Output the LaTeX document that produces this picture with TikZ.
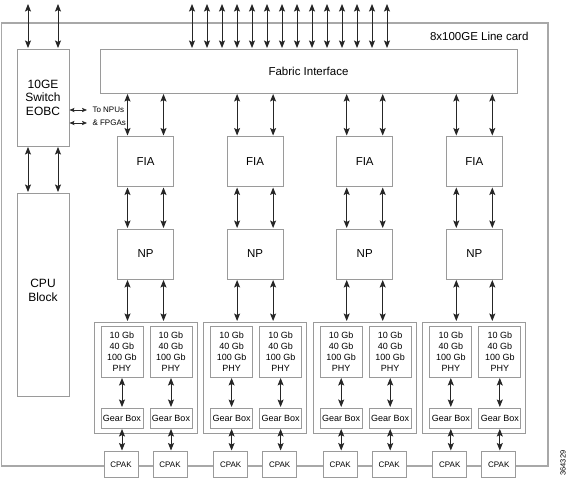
\documentclass[tikz,border=0pt]{standalone}
\usepackage{fontspec}
\setmainfont{Liberation Sans}
\usetikzlibrary{arrows.meta}
\definecolor{boxgray}{HTML}{9A9A9A}
\definecolor{framegray}{HTML}{A8A8A8}
\begin{document}
\begin{tikzpicture}[x=1pt,y=-1pt,
  box/.style={draw=boxgray,line width=1pt,fill=white,inner sep=0pt,outer sep=0pt,align=center},
  arr/.style={{Stealth[length=7.5pt,width=6pt,inset=1.5pt]}-{Stealth[length=7.5pt,width=6pt,inset=1.5pt]},line width=0.9pt,black!85,shorten <=1pt,shorten >=1pt},
  sarr/.style={{Stealth[length=5pt,width=4.2pt,inset=1pt]}-{Stealth[length=5pt,width=4.2pt,inset=1pt]},line width=0.7pt,black!85,shorten <=0.5pt,shorten >=2pt},
  big/.style={font=\fontsize{12}{13.5}\selectfont},
  mid/.style={font=\fontsize{11.5}{13}\selectfont},
  phyfont/.style={font=\fontsize{9}{11}\selectfont},
  small/.style={font=\fontsize{8}{9}\selectfont}]
\useasboundingbox (0,0) rectangle (568,479);
% line card frame
\draw[framegray,line width=1.3pt] (1.5,23) rectangle (548,466);
\node[mid,anchor=east] (title) at (532,36) {8x100GE Line card};
% fabric interface
\node[box,mid,minimum width=417pt,minimum height=44pt] (fab) at (308.5,71) {Fabric Interface};
\foreach \k in {0,...,13}{
  \coordinate (t\k) at (192+15*\k,3);
  \draw[arr] (t\k) -- (t\k |- fab.north);
}
% switch
\node[box,big,minimum width=52pt,minimum height=97pt] (sw) at (43,97.5) {10GE\\Switch\\EOBC};
\coordinate (s1) at (28,3);
\coordinate (s2) at (58,3);
\draw[arr] (s1) -- (s1 |- sw.north);
\draw[arr] (s2) -- (s2 |- sw.north);
% CPU
\node[box,big,minimum width=52pt,minimum height=203pt] (cpu) at (43,294.5) {CPU\\Block\\[-5pt]};
\draw[arr] (s1 |- sw.south) -- (s1 |- cpu.north);
\draw[arr] (s2 |- sw.south) -- (s2 |- cpu.north);
% to NPUs
\node[small,anchor=west] (npu) at (89,110) {To NPUs};
\node[small,anchor=west] (fpga) at (89,123) {\& FPGAs};
\draw[sarr] (sw.east |- npu) -- (npu.west);
\draw[sarr] (sw.east |- fpga) -- (fpga.west);
% columns
\foreach \i in {1,...,4}{
  \pgfmathsetmacro{\c}{145.5+109.6*(\i-1)}
  \node[box,mid,minimum width=56pt,minimum height=50pt] (fia\i) at (\c,161.5) {FIA};
  \node[box,mid,minimum width=56pt,minimum height=50pt] (np\i) at (\c,254) {NP};
  \node[box,minimum width=103pt,minimum height=111pt] (grp\i) at (\c,377.5) {};
  \coordinate (al\i) at (\c-18,0);
  \coordinate (ar\i) at (\c+18,0);
  \draw[arr] (al\i |- fab.south) -- (al\i |- fia\i.north);
  \draw[arr] (ar\i |- fab.south) -- (ar\i |- fia\i.north);
  \draw[arr] (al\i |- fia\i.south) -- (al\i |- np\i.north);
  \draw[arr] (ar\i |- fia\i.south) -- (ar\i |- np\i.north);
  \draw[arr] (al\i |- np\i.south) -- (al\i |- grp\i.north);
  \draw[arr] (ar\i |- np\i.south) -- (ar\i |- grp\i.north);
  \node[box,phyfont,minimum width=42pt,minimum height=51pt] (phya\i) at (\c-23.5,351.5) {10 Gb\\40 Gb\\100 Gb\\PHY};
  \node[box,phyfont,minimum width=42pt,minimum height=51pt] (phyb\i) at (\c+25.5,351.5) {10 Gb\\40 Gb\\100 Gb\\PHY};
  \node[box,phyfont,minimum width=42pt,minimum height=20pt] (gba\i) at (\c-23.5,418) {Gear Box};
  \node[box,phyfont,minimum width=42pt,minimum height=20pt] (gbb\i) at (\c+25.5,418) {Gear Box};
  \node[box,small,minimum width=34pt,minimum height=26pt] (cpa\i) at (\c-24.5,464.5) {CPAK};
  \node[box,small,minimum width=34pt,minimum height=26pt] (cpb\i) at (\c+24.5,464.5) {CPAK};
  \draw[arr] (phya\i.south) -- (gba\i.north);
  \draw[arr] (phyb\i.south) -- (gbb\i.north);
  \draw[arr] (gba\i.south) -- (gba\i.south |- cpa\i.north);
  \draw[arr] (gbb\i.south) -- (gbb\i.south |- cpb\i.north);
}
\node[font=\fontsize{7.5}{8}\selectfont,rotate=90] (fig) at (563,463) {364329};
\end{tikzpicture}
\end{document}
